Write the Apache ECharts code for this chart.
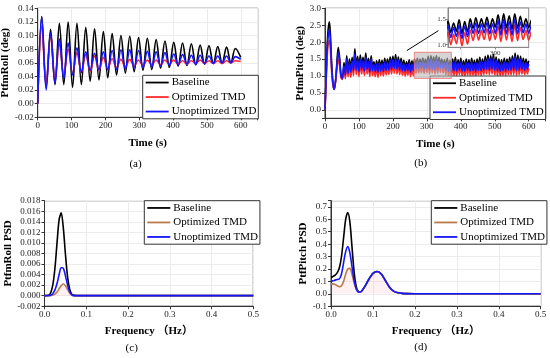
<!DOCTYPE html>
<html><head><meta charset="utf-8">
<script src="https://cdn.jsdelivr.net/npm/echarts@6.0.0/dist/echarts.min.js"></script>
<style>html,body{margin:0;padding:0;background:#fff}#c{width:550px;height:358px}</style>
</head><body><div id="c"></div>
<script>
// ---------- (a) PtfmRoll time series (peak / trough samples) ----------
const tRoll = [0,12,25,38,51,64,77,90,103,116,129,142,155,168,181,194,207,220,233,246,259,272,285,298,311,324,337,350,363,376,389,402,415,428,441,454,467,480,493,506,519,532,545,558,571,584,600];
const rollBase = [0.000,
 0.128,0.024, 0.109,0.028, 0.118,0.028, 0.120,0.024, 0.118,0.028, 0.112,0.033, 0.110,0.035, 0.106,0.038,
 0.103,0.042, 0.100,0.045, 0.099,0.047, 0.097,0.049, 0.096,0.050, 0.094,0.052, 0.092,0.053, 0.090,0.055,
 0.089,0.056, 0.088,0.057, 0.086,0.058, 0.085,0.059, 0.084,0.059, 0.083,0.060, 0.081, 0.068];
const rollOpt = [0.000,
 0.114,0.028, 0.100,0.038, 0.088,0.042, 0.080,0.044, 0.075,0.046, 0.072,0.047, 0.070,0.049, 0.068,0.051,
 0.066,0.053, 0.065,0.054, 0.065,0.055, 0.064,0.056, 0.064,0.057, 0.064,0.057, 0.064,0.058, 0.064,0.058,
 0.063,0.058, 0.063,0.059, 0.064,0.059, 0.063,0.059, 0.063,0.059, 0.063,0.060, 0.063, 0.062];
const rollUnopt = [0.000,
 0.127,0.020, 0.104,0.030, 0.095,0.037, 0.089,0.042, 0.082,0.046, 0.076,0.049, 0.074,0.050, 0.076,0.050,
 0.078,0.050, 0.079,0.051, 0.079,0.052, 0.078,0.053, 0.077,0.054, 0.076,0.055, 0.075,0.056, 0.073,0.057,
 0.072,0.058, 0.071,0.058, 0.071,0.059, 0.070,0.059, 0.070,0.060, 0.070,0.060, 0.069, 0.065];

// ---------- (b) PtfmPitch time series ----------
const tPitch = [0,3,6,9,13,16,19,23,27,31,35,39,43,47,51,56,60,64,68,72,
 76,80,84,88,92,96,100,104,108,112,116,120,124,128,132,136,140,144,148,152,156,160,164,168,172,176,180,184,188,192,196,200,
 204,208,212,216,220,224,228,232,236,240,244,248,252,256,260,264,268,272,276,280,284,288,292,296,300,304,308,312,316,320,324,328,
 332,336,340,344,348,352,356,360,364,368,372,376,380,384,388,392,396,400,404,408,412,416,420,424,428,432,436,440,444,448,452,456,
 460,464,468,472,476,480,484,488,492,496,500,504,508,512,516,520,524,528,532,536,540,544,548,552,556,560,564,568,572,576,580,584,
 588,592,596,600];
const pitchBase = [0.00,0.90,1.80,2.35,2.60,2.20,1.50,0.85,0.60,0.85,1.40,1.85,1.55,1.05,0.92,1.40,1.10,1.60,1.15,1.50,
 1.20,1.55, 1.25,1.80, 1.28,1.58, 1.22,1.62, 1.30,1.55, 1.25,1.68, 1.30,1.52, 1.22,1.60,
 1.25,1.42, 1.22,1.45, 1.20,1.48, 1.25,1.46, 1.24,1.52, 1.27,1.50, 1.28,1.56, 1.30,1.58,
 1.32,1.63, 1.30,1.56, 1.28,1.52, 1.26,1.46, 1.24,1.42, 1.26,1.48, 1.22,1.45, 1.25,1.50,
 1.32,1.52, 1.33,1.50, 1.34,1.53, 1.32,1.50, 1.34,1.58, 1.30,1.60, 1.33,1.56, 1.30,1.60,
 1.32,1.55, 1.34,1.50, 1.33,1.48, 1.28,1.52, 1.24,1.46, 1.22,1.50, 1.26,1.55, 1.25,1.48,
 1.28,1.52, 1.25,1.45, 1.24,1.50, 1.27,1.48, 1.25,1.52, 1.26,1.46, 1.23,1.50, 1.27,1.55,
 1.25,1.50, 1.28,1.58, 1.30,1.62, 1.28,1.60, 1.30,1.64, 1.27,1.56, 1.25,1.50, 1.24,1.48,
 1.26,1.52, 1.25,1.50, 1.28,1.55, 1.27,1.60, 1.28,1.68, 1.26,1.62, 1.28,1.58, 1.30,1.52,
 1.28,1.50, 1.30,1.45];
const pitchOpt = [0.00,0.75,1.45,1.90,2.05,1.75,1.20,0.75,0.60,0.82,1.20,1.50,1.30,0.95,0.90,1.18,0.92,1.35,0.98,1.25,
 0.96,1.33, 1.01,1.56, 1.04,1.36, 0.98,1.40, 1.06,1.33, 1.01,1.46, 1.06,1.30, 0.98,1.38,
 1.01,1.20, 0.98,1.23, 0.96,1.26, 1.01,1.24, 1.00,1.30, 1.03,1.28, 1.04,1.34, 1.06,1.36,
 1.08,1.41, 1.06,1.34, 1.04,1.30, 1.02,1.24, 1.00,1.20, 1.02,1.26, 0.98,1.23, 1.01,1.28,
 1.08,1.30, 1.09,1.28, 1.10,1.31, 1.08,1.28, 1.10,1.36, 1.06,1.38, 1.09,1.34, 1.06,1.38,
 1.08,1.33, 1.10,1.28, 1.09,1.26, 1.04,1.30, 1.00,1.24, 0.98,1.28, 1.02,1.33, 1.01,1.26,
 1.04,1.30, 1.01,1.23, 1.00,1.28, 1.03,1.26, 1.01,1.30, 1.02,1.24, 0.99,1.28, 1.03,1.33,
 1.01,1.28, 1.04,1.36, 1.06,1.40, 1.04,1.38, 1.06,1.42, 1.03,1.34, 1.01,1.28, 1.00,1.26,
 1.02,1.30, 1.01,1.28, 1.04,1.33, 1.03,1.38, 1.04,1.46, 1.02,1.40, 1.04,1.36, 1.06,1.30,
 1.04,1.28, 1.06,1.23];
const pitchUnopt = [0.00,0.85,1.70,2.15,2.38,2.00,1.35,0.80,0.60,0.85,1.30,1.70,1.45,1.00,0.92,1.30,1.02,1.50,1.08,1.40,
 1.12,1.45, 1.16,1.66, 1.18,1.48, 1.13,1.50, 1.20,1.45, 1.15,1.56, 1.20,1.42, 1.12,1.50,
 1.16,1.34, 1.13,1.36, 1.11,1.38, 1.15,1.37, 1.14,1.42, 1.17,1.41, 1.18,1.46, 1.20,1.48,
 1.22,1.52, 1.20,1.46, 1.18,1.42, 1.16,1.37, 1.14,1.33, 1.16,1.38, 1.12,1.36, 1.16,1.40,
 1.22,1.42, 1.22,1.40, 1.23,1.43, 1.21,1.40, 1.22,1.47, 1.19,1.49, 1.21,1.45, 1.19,1.49,
 1.21,1.44, 1.23,1.40, 1.22,1.38, 1.18,1.42, 1.14,1.36, 1.12,1.40, 1.16,1.45, 1.15,1.38,
 1.18,1.42, 1.15,1.35, 1.14,1.40, 1.17,1.38, 1.15,1.42, 1.16,1.36, 1.13,1.40, 1.17,1.45,
 1.15,1.40, 1.18,1.48, 1.20,1.52, 1.18,1.50, 1.20,1.54, 1.17,1.46, 1.15,1.40, 1.14,1.38,
 1.16,1.42, 1.15,1.40, 1.18,1.45, 1.17,1.50, 1.18,1.58, 1.16,1.52, 1.18,1.48, 1.20,1.42,
 1.18,1.40, 1.20,1.36];
// zoom box / arrow (data coordinates)
const zoomBox = [[263, 0.93], [372, 1.70]];
const arrowLine = [[241, 1.75], [334, 2.34]];

// ---------- (c) PtfmRoll PSD ----------
const freqC = [0,0.01,0.015,0.02,0.025,0.03,0.035,0.04,0.045,0.05,0.055,0.06,0.065,0.07,0.08,0.1,0.2,0.3,0.4,0.5];
const psdRollBase  = [0,0.0001,0.0006,0.0021,0.0052,0.0100,0.0144,0.0157,0.0129,0.0080,0.0037,0.0013,0.0003,0.0001,0,0,0,0,0,0];
const psdRollOpt   = [0,0,0,0.0001,0.0003,0.0007,0.0013,0.0019,0.0022,0.0019,0.0012,0.0005,0.0001,0,0,0,0,0,0,0];
const psdRollUnopt = [0,0,0.0001,0.0004,0.0011,0.0023,0.0040,0.0053,0.0052,0.0038,0.0021,0.0008,0.0002,0,0,0,0,0,0,0];

// ---------- (d) PtfPitch PSD ----------
const freqD = [0,0.005,0.01,0.015,0.02,0.025,0.03,0.035,0.04,0.045,0.05,0.055,0.06,0.065,0.07,0.075,0.08,0.09,0.1,0.11,0.12,0.13,0.14,0.15,0.16,0.17,0.18,0.2,0.3,0.4,0.5];
const psdPitchBase  = [0.13,0.14,0.15,0.17,0.21,0.30,0.45,0.60,0.655,0.58,0.38,0.18,0.06,0.02,0.015,0.03,0.055,0.115,0.165,0.18,0.16,0.105,0.05,0.02,0.008,0.003,0.001,0,0,0,0];
const psdPitchOpt   = [0.08,0.08,0.075,0.065,0.058,0.065,0.10,0.16,0.20,0.205,0.16,0.09,0.04,0.018,0.015,0.03,0.055,0.115,0.165,0.18,0.16,0.105,0.05,0.02,0.008,0.003,0.001,0,0,0,0];
const psdPitchUnopt = [0.10,0.105,0.11,0.115,0.12,0.16,0.25,0.34,0.38,0.33,0.22,0.11,0.04,0.015,0.015,0.03,0.055,0.115,0.165,0.18,0.16,0.105,0.05,0.02,0.008,0.003,0.001,0,0,0,0];

const names = ['Baseline', 'Optimized TMD', 'Unoptimized TMD'];
const panelLabels = ['(a)', '(b)', '(c)', '(d)'];

// ---------- styling ----------
const FONT = "'Liberation Serif','Times New Roman','Noto Sans CJK SC',serif";
const C_BLACK = '#000000', C_RED = '#ff2a2a', C_BLUE = '#1515ff', C_BROWN = '#bb7a4a';

function zip(xs, ys) { return xs.map((x, i) => [x, ys[i]]); }

function xAx(gi, min, max, interval, fmt, name, gap) {
  return {
    type: 'value', gridIndex: gi, min: min, max: max, interval: interval,
    name: name, nameLocation: 'middle', nameGap: gap,
    nameTextStyle: { fontFamily: FONT, fontWeight: 'bold', fontSize: 11, color: '#000' },
    axisLine: { show: true, onZero: false, lineStyle: { color: '#333', width: 1 } },
    axisTick: { show: true, inside: false, length: 3, lineStyle: { color: '#333' } },
    axisLabel: { fontFamily: FONT, fontSize: 9, color: '#222', margin: 4, formatter: fmt, hideOverlap: false },
    splitLine: { show: true, lineStyle: { color: '#ececec', width: 1 } }
  };
}
function yAx(gi, min, max, interval, fmt, name, gap) {
  const a = xAx(gi, min, max, interval, fmt, name, gap);
  a.nameRotate = 90;
  return a;
}
function line(name, xi, data, color, extra) {
  return Object.assign({
    type: 'line', name: name, xAxisIndex: xi, yAxisIndex: xi, data: data,
    symbol: 'none', smooth: 0.35, lineStyle: { color: color, width: 1.6 }, itemStyle: { color: color },
    animation: false, silent: true
  }, extra || {});
}
function legend(left, top, optColor) {
  return {
    orient: 'vertical', left: left, top: top, selectedMode: false,
    icon: 'rect', itemWidth: 23, itemHeight: 1.8, itemGap: 2,
    padding: [1, 2, 1, 3], borderColor: '#333', borderWidth: 1, backgroundColor: '#fff',
    textStyle: { fontFamily: FONT, fontSize: 11, color: '#000', lineHeight: 12.5, padding: [0, 0, 0, -2] },
    data: [
      { name: names[0], itemStyle: { color: C_BLACK } },
      { name: names[1], itemStyle: { color: optColor } },
      { name: names[2], itemStyle: { color: C_BLUE } }
    ]
  };
}

const fmtInt = v => (v > 600 ? '' : String(Math.round(v)));
const fmt2 = v => v.toFixed(2);
const fmtHalf = v => (Math.abs(v * 2 - Math.round(v * 2)) < 1e-6 && v >= -1e-9) ? v.toFixed(1) : '';
const fmt3 = v => v.toFixed(3);
const fmt1 = v => v.toFixed(1);
const fmtD = v => (v > 0.71 ? '' : v.toFixed(1));

const option = {
  animation: false,
  backgroundColor: '#fff',
  grid: [
    { left: 37.7, top: 8.3, width: 220, height: 109, show: true, borderColor: '#333', borderWidth: 1, containLabel: false, outerBoundsMode: 'none' },
    { left: 325, top: 8.3, width: 220.7, height: 110, show: true, borderColor: '#333', borderWidth: 1, containLabel: false, outerBoundsMode: 'none' },
    { left: 44.5, top: 200.7, width: 208.8, height: 105.5, show: true, borderColor: '#333', borderWidth: 1, containLabel: false, outerBoundsMode: 'none' },
    { left: 331, top: 200.7, width: 209.7, height: 105.5, show: true, borderColor: '#333', borderWidth: 1, containLabel: false, outerBoundsMode: 'none' },
    { left: 448, top: 8, width: 80.7, height: 39.3, show: true, z: 10, backgroundColor: '#fff', borderColor: '#888', borderWidth: 1, containLabel: false, outerBoundsMode: 'none' }
  ],
  xAxis: [
    xAx(0, 0, 650, 100, fmtInt, 'Time (s)', 20),
    xAx(1, 0, 650, 100, fmtInt, 'Time (s)', 20),
    xAx(2, 0, 0.5, 0.1, fmt1, 'Frequency （Hz）', 19),
    xAx(3, 0, 0.5, 0.1, fmt1, 'Frequency （Hz）', 19),
    Object.assign(xAx(4, 232, 348, null, v => String(Math.round(v)), '', 0), {
      z: 12,
      axisLabel: { fontFamily: FONT, fontSize: 7, color: '#333', margin: 2, customValues: [300], formatter: v => String(Math.round(v)) },
      axisTick: { show: true, length: 2, customValues: [250, 300], lineStyle: { color: '#888' } },
      axisLine: { show: true, onZero: false, lineStyle: { color: '#888' } },
      splitLine: { show: false }
    })
  ],
  yAxis: [
    yAx(0, -0.02, 0.14, 0.02, fmt2, 'PtfmRoll (deg)', 24),
    Object.assign(yAx(1, -0.25, 3.0, null, fmtHalf, 'PtfmPitch (deg)', 17), { splitNumber: 6 }),
    yAx(2, -0.002, 0.018, 0.002, fmt3, 'PtfmRoll PSD', 30),
    yAx(3, -0.1, 0.75, 0.1, fmtD, 'PtfPitch PSD', 20),
    Object.assign(yAx(4, 0.95, 1.71, null, v => v.toFixed(1), '', 0), {
      z: 12,
      axisLabel: { fontFamily: FONT, fontSize: 7, color: '#333', margin: 2, customValues: [1.0, 1.5], formatter: v => v.toFixed(1) },
      axisTick: { show: true, length: 2, customValues: [1.0, 1.5], lineStyle: { color: '#888' } },
      axisLine: { show: true, onZero: false, lineStyle: { color: '#888' } },
      splitLine: { show: false }
    })
  ],
  legend: [
    legend(142.7, 75.3, C_RED),
    legend(430, 76, C_RED),
    legend(144.3, 200.7, C_BROWN),
    legend(431.3, 200.7, C_BROWN)
  ],
  graphic: [
    { type: 'text', x: 135.5, y: 164, style: { text: panelLabels[0], font: '11px ' + FONT, fill: '#000', textAlign: 'center', textVerticalAlign: 'middle' } },
    { type: 'text', x: 420.7, y: 163, style: { text: panelLabels[1], font: '11px ' + FONT, fill: '#000', textAlign: 'center', textVerticalAlign: 'middle' } },
    { type: 'text', x: 131.7, y: 348, style: { text: panelLabels[2], font: '11px ' + FONT, fill: '#000', textAlign: 'center', textVerticalAlign: 'middle' } },
    { type: 'text', x: 420.7, y: 347, style: { text: panelLabels[3], font: '11px ' + FONT, fill: '#000', textAlign: 'center', textVerticalAlign: 'middle' } }
  ],
  series: [
    line(names[0], 0, zip(tRoll, rollBase), C_BLACK),
    line(names[1], 0, zip(tRoll, rollOpt), C_RED),
    line(names[2], 0, zip(tRoll, rollUnopt), C_BLUE),

    line(names[0], 1, zip(tPitch, pitchBase), C_BLACK, { smooth: 0.3 }),
    line(names[1], 1, zip(tPitch, pitchOpt), C_RED, { smooth: 0.3 }),
    line(names[2], 1, zip(tPitch, pitchUnopt), C_BLUE, { smooth: 0.3 }),
    {
      type: 'line', name: '_marks', xAxisIndex: 1, yAxisIndex: 1, data: [], z: 5, silent: true,
      markArea: {
        silent: true, z: 6,
        itemStyle: { color: 'rgba(185,185,185,0.6)', borderColor: 'rgba(240,110,110,0.85)', borderWidth: 1 },
        data: [[{ coord: zoomBox[0] }, { coord: zoomBox[1] }]]
      },
      markLine: {
        silent: true, z: 6, symbol: ['none', 'arrow'], symbolSize: [0, 6],
        label: { show: false },
        lineStyle: { color: '#000', width: 1, type: 'solid' },
        data: [[{ coord: arrowLine[0] }, { coord: arrowLine[1] }]]
      }
    },
    line(names[0], 4, zip(tPitch, pitchBase), C_BLACK, { smooth: 0.3, z: 13, lineStyle: { color: C_BLACK, width: 1.6 } }),
    line(names[1], 4, zip(tPitch, pitchOpt), C_RED, { smooth: 0.3, z: 13, lineStyle: { color: C_RED, width: 1.6 } }),
    line(names[2], 4, zip(tPitch, pitchUnopt), C_BLUE, { smooth: 0.3, z: 13, lineStyle: { color: C_BLUE, width: 1.6 } }),

    line(names[0], 2, zip(freqC, psdRollBase), C_BLACK, { smooth: 0.3 }),
    line(names[1], 2, zip(freqC, psdRollOpt), C_BROWN, { smooth: 0.3, areaStyle: { color: 'rgba(255,170,190,0.25)' } }),
    line(names[2], 2, zip(freqC, psdRollUnopt), C_BLUE, { smooth: 0.3 }),

    line(names[0], 3, zip(freqD, psdPitchBase), C_BLACK, { smooth: 0.3 }),
    line(names[1], 3, zip(freqD, psdPitchOpt), C_BROWN, { smooth: 0.3, areaStyle: { color: 'rgba(255,170,190,0.25)' } }),
    line(names[2], 3, zip(freqD, psdPitchUnopt), C_BLUE, { smooth: 0.3 })
  ]
};

const chart = echarts.init(document.getElementById('c'), null, { renderer: 'canvas' });
chart.setOption(option);
</script>
</body></html>
